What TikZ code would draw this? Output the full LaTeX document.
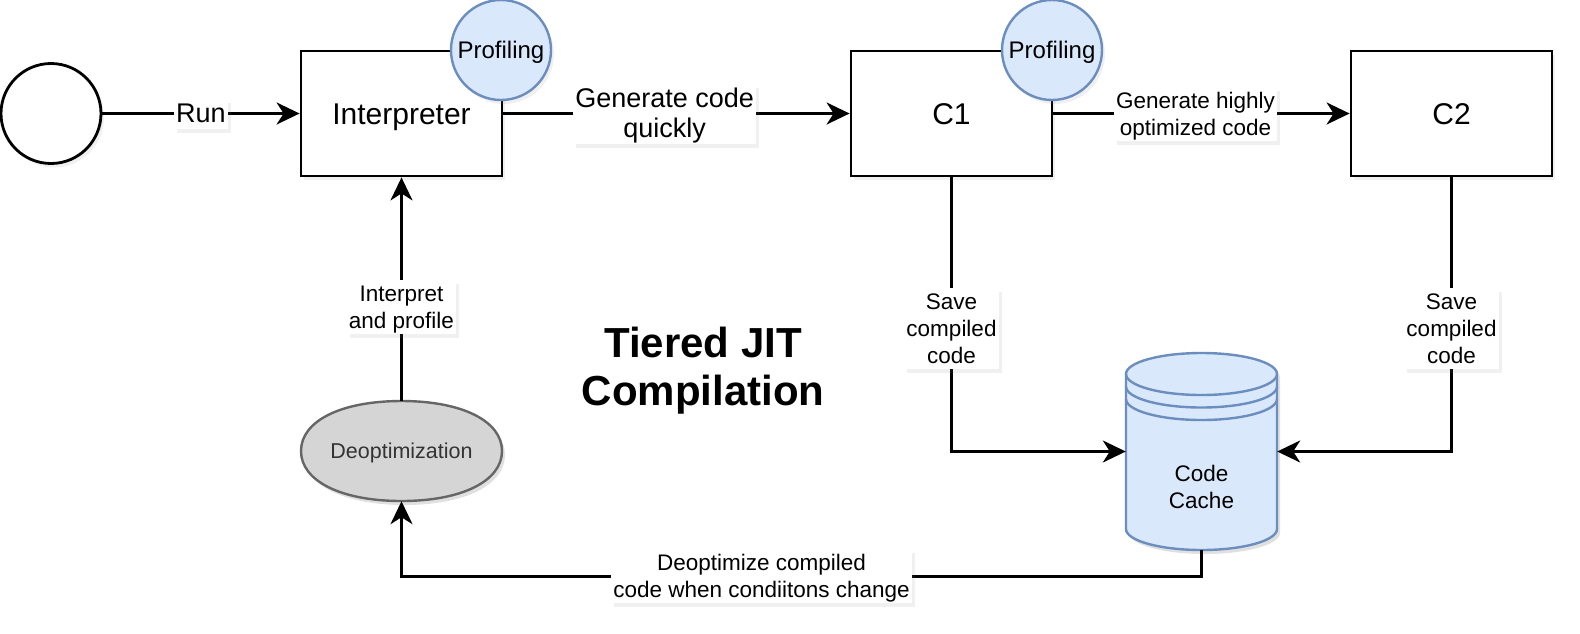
\documentclass[tikz,border=0pt]{standalone}
\usepackage{fontspec}
\setmainfont{Liberation Sans}
\usetikzlibrary{arrows.meta,shapes.geometric,shadows}
\definecolor{blfill}{HTML}{DAE8FC}
\definecolor{blline}{HTML}{6C8EBF}
\definecolor{gfill}{HTML}{D5D5D5}
\definecolor{gline}{HTML}{666666}
\definecolor{gtext}{HTML}{333333}
\newcommand{\ls}{\rule[-0.2\baselineskip]{0pt}{\baselineskip}}
\begin{document}
\begin{tikzpicture}[x=1pt,y=-1pt,
  shad/.style={drop shadow={opacity=0.12,shadow xshift=3pt,shadow yshift=-4pt}},
  proc/.style={draw,line width=2.8pt,fill=white,minimum width=201pt,minimum height=125pt,inner sep=0pt,font=\fontsize{30}{36}\selectfont,text height=21.6pt,text depth=0pt,shad},
  prof/.style={circle,draw=blline,line width=2.4pt,fill=blfill,minimum size=100pt,inner sep=0pt,font=\fontsize{24}{28}\selectfont,text height=17.3pt,text depth=0pt,shad},
  lblS/.style={fill=white,inner xsep=2pt,inner ysep=0pt,align=center,font=\fontsize{22.5}{27}\selectfont,shad},
  lblM/.style={fill=white,inner xsep=2pt,inner ysep=0pt,align=center,font=\fontsize{27}{30}\selectfont,shad},
  arr/.style={line width=2.6pt,-{Stealth[length=23pt,width=22pt,inset=7pt]}},
  ttl/.style={font=\bfseries\fontsize{42}{48}\selectfont,align=center},
]
\useasboundingbox (0,0) rectangle (1580,633);

% title
\node[ttl] (title) at (703,372) {\strut Tiered JIT\\\strut Compilation};

% main nodes
\node[circle,draw,line width=2.8pt,fill=white,minimum size=100pt,inner sep=0pt,shad] (start) at (51,113.5) {};
\node[proc] (interp) at (401.5,113.5) {Interpreter};
\node[proc] (c1) at (951.5,113.5) {C1};
\node[proc] (c2) at (1451.5,113.5) {C2};
\node[prof] (p1) at (501,50) {Profiling};
\node[prof] (p2) at (1052,50) {Profiling};

% deoptimization (full ellipse)
\fill[black,opacity=0.12,shift={(3,4)}] (502,451) .. controls (502,481) and (462,501) .. (401.5,501) .. controls (341,501) and (301,481) .. (301,451) .. controls (301,421) and (341,401) .. (401.5,401) .. controls (462,401) and (502,421) .. (502,451) -- cycle;
\path[draw=gline,line width=2.4pt,fill=gfill] (502,451) .. controls (502,481) and (462,501) .. (401.5,501) .. controls (341,501) and (301,481) .. (301,451) .. controls (301,421) and (341,401) .. (401.5,401) .. controls (462,401) and (502,421) .. (502,451) -- cycle;
\node[minimum width=201pt,minimum height=100pt,inner sep=0pt,text=gtext,font=\fontsize{21.5}{26}\selectfont,text height=15.5pt,text depth=0pt] (deopt) at (401.5,451) {Deoptimization};

% code cache cylinder
\node[minimum width=151pt,minimum height=197pt,inner sep=0pt] (cache) at (1201.5,451.5) {};
\fill[black,opacity=0.12] (1129,378) -- (1129,533) arc[start angle=180,end angle=0,x radius=75.5,y radius=21] -- (1280,378) arc[start angle=0,end angle=-180,x radius=75.5,y radius=21] -- cycle;
\path[draw=blline,fill=blfill,line width=2.4pt] (1126,374) -- (1126,529) arc[start angle=180,end angle=0,x radius=75.5,y radius=21] -- (1277,374) arc[start angle=0,end angle=-180,x radius=75.5,y radius=21] -- cycle;
\draw[blline,line width=2.4pt] (1126,374) arc[start angle=180,end angle=0,x radius=75.5,y radius=21];
\draw[blline,line width=2.4pt] (1126,386.5) arc[start angle=180,end angle=0,x radius=75.5,y radius=21];
\draw[blline,line width=2.4pt] (1126,399) arc[start angle=180,end angle=0,x radius=75.5,y radius=21];
\node[font=\fontsize{22.5}{27}\selectfont,align=center] (cachetxt) at (1201.5,487) {Code\\Cache};

% connectors
\draw[arr] (start) -- node[lblM]{\ls Run} (interp);
\draw[arr] (interp) -- node[lblM,pos=0.466]{\ls Generate code\\\ls quickly} (c1);
\draw[arr] (c1) -- node[lblS,pos=0.48]{\ls Generate highly\\\ls optimized code} (c2);
\draw[arr] (c1.south) |- node[lblS,pos=0.276]{\ls Save\\\ls compiled\\\ls code} (cache.west);
\draw[arr] (c2.south) |- node[lblS,pos=0.276]{\ls Save\\\ls compiled\\\ls code} (cache.east);
\draw[arr] (deopt.north) -- node[lblS,pos=0.422]{\ls Interpret\\\ls and profile} (interp.south);
\draw[arr] (cache.south) -- ++(0,26) coordinate (bl) -| node[lblS,pos=0.275]{\ls Deoptimize compiled\\\ls code when condiitons change} (deopt.south);
\end{tikzpicture}
\end{document}
